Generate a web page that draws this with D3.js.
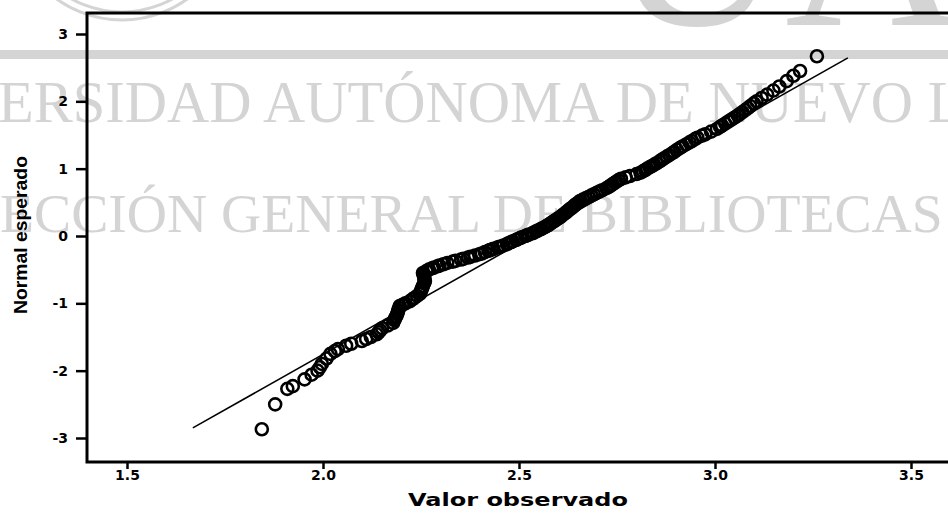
<!DOCTYPE html>
<html>
<head>
<meta charset="utf-8">
<script src="https://cdn.jsdelivr.net/npm/d3@7"></script>
<style>
body { margin: 0; background: #fff; }
</style>
</head>
<body>
<script>
let observado = [
    1.844, 1.878, 1.909, 1.923, 1.953, 1.971, 1.986, 1.992, 1.997, 2.009,
    2.019, 2.030, 2.038, 2.059, 2.072, 2.099, 2.110, 2.122, 2.137, 2.142,
    2.146, 2.151, 2.165, 2.179, 2.182, 2.184, 2.187, 2.189, 2.191, 2.192,
    2.194, 2.196, 2.203, 2.210, 2.221, 2.228, 2.233, 2.240, 2.247, 2.249,
    2.251, 2.253, 2.255, 2.258, 2.260, 2.259, 2.258, 2.257, 2.255, 2.264,
    2.270, 2.278, 2.283, 2.292, 2.297, 2.307, 2.317, 2.331, 2.338, 2.352,
    2.358, 2.370, 2.376, 2.388, 2.399, 2.405, 2.413, 2.422, 2.426, 2.431,
    2.435, 2.445, 2.450, 2.460, 2.469, 2.473, 2.480, 2.484, 2.492, 2.496,
    2.503, 2.507, 2.516, 2.520, 2.525, 2.534, 2.538, 2.544, 2.548, 2.555,
    2.558, 2.565, 2.571, 2.574, 2.579, 2.584, 2.589, 2.592, 2.597, 2.602,
    2.605, 2.609, 2.613, 2.618, 2.622, 2.626, 2.630, 2.635, 2.639, 2.643,
    2.647, 2.652, 2.656, 2.663, 2.670, 2.677, 2.684, 2.691, 2.698, 2.705,
    2.712, 2.723, 2.729, 2.734, 2.739, 2.744, 2.749, 2.754, 2.760, 2.772,
    2.783, 2.800, 2.810, 2.816, 2.822, 2.827, 2.833, 2.839, 2.845, 2.851,
    2.859, 2.864, 2.869, 2.877, 2.883, 2.891, 2.896, 2.903, 2.911, 2.917,
    2.926, 2.935, 2.941, 2.949, 2.955, 2.967, 2.975, 2.990, 3.005, 3.013,
    3.018, 3.026, 3.034, 3.042, 3.050, 3.058, 3.063, 3.070, 3.077, 3.084,
    3.090, 3.099, 3.106, 3.119, 3.133, 3.149, 3.164, 3.183, 3.200, 3.217,
    3.260
];
let esperado = [
    -2.87, -2.50, -2.27, -2.23, -2.13, -2.06, -2.00, -1.95, -1.90, -1.82,
    -1.75, -1.71, -1.68, -1.63, -1.60, -1.56, -1.53, -1.50, -1.46, -1.43,
    -1.40, -1.37, -1.33, -1.29, -1.25, -1.22, -1.19, -1.16, -1.13, -1.10,
    -1.07, -1.04, -1.02, -1.00, -0.97, -0.94, -0.92, -0.89, -0.86, -0.83,
    -0.80, -0.77, -0.74, -0.70, -0.67, -0.64, -0.61, -0.58, -0.55, -0.52,
    -0.50, -0.48, -0.47, -0.45, -0.44, -0.42, -0.40, -0.38, -0.37, -0.35,
    -0.34, -0.32, -0.31, -0.29, -0.27, -0.26, -0.24, -0.22, -0.21, -0.20,
    -0.19, -0.17, -0.16, -0.14, -0.12, -0.11, -0.09, -0.08, -0.06, -0.05,
    -0.03, -0.02, 0.00, 0.01, 0.02, 0.04, 0.05, 0.07, 0.08, 0.10,
    0.11, 0.13, 0.15, 0.16, 0.18, 0.20, 0.22, 0.23, 0.25, 0.27,
    0.28, 0.30, 0.32, 0.34, 0.36, 0.38, 0.40, 0.42, 0.44, 0.46,
    0.48, 0.50, 0.52, 0.54, 0.56, 0.58, 0.60, 0.62, 0.64, 0.66,
    0.68, 0.71, 0.73, 0.75, 0.77, 0.79, 0.81, 0.83, 0.85, 0.87,
    0.89, 0.92, 0.94, 0.96, 0.98, 1.00, 1.02, 1.04, 1.06, 1.08,
    1.11, 1.13, 1.15, 1.18, 1.20, 1.23, 1.25, 1.28, 1.31, 1.33,
    1.36, 1.39, 1.41, 1.44, 1.46, 1.49, 1.51, 1.55, 1.59, 1.62,
    1.64, 1.67, 1.70, 1.73, 1.76, 1.79, 1.81, 1.84, 1.87, 1.90,
    1.93, 1.97, 2.00, 2.05, 2.10, 2.16, 2.22, 2.30, 2.38, 2.45,
    2.67
];

// recta de referencia (extremos)
let rectaX = [1.668, 3.339];
let rectaY = [-2.85, 2.645];

let xTicks = [1.5, 2.0, 2.5, 3.0, 3.5];
let yTicks = [-3, -2, -1, 0, 1, 2, 3];

let w = 948;
let h = 517;
let margenIzq = 87, margenSup = 13, margenInf = 462;

let svg = d3.select("body")
    .append("svg")
    .attr("width", w)
    .attr("height", h);

// marca de agua del escaneo
let gris = "#d4d4d4";
let wm = svg.append("g");

wm.append("rect")
    .attr("x", 0).attr("y", 50)
    .attr("width", w).attr("height", 9)
    .attr("fill", gris);

[104, 112].forEach(function (r) {
    wm.append("circle")
        .attr("cx", 122).attr("cy", -92)
        .attr("r", r)
        .attr("fill", "none")
        .attr("stroke", gris)
        .attr("stroke-width", 3);
});

function lineaMarca(texto, nPrefijo, nVisible, x0, ancho, base) {
    let t = wm.append("text")
        .attr("font-family", "Liberation Serif, serif")
        .attr("font-size", 100)
        .attr("fill", gris)
        .text(texto);
    let node = t.node();
    let fs = 100 * ancho / node.getSubStringLength(nPrefijo, nVisible);
    t.attr("font-size", fs);
    let pre = node.getSubStringLength(0, nPrefijo);
    t.attr("x", x0 - pre).attr("y", base);
}

lineaMarca("UNIVERSIDAD AUTÓNOMA DE NUEVO LEÓN", 4, 26, -2, 930, 122);
lineaMarca("DIRECCIÓN GENERAL DE BIBLIOTECAS", 3, 28, 0, 912, 232);

wm.append("text")
    .attr("x", 608).attr("y", 25)
    .attr("font-family", "Liberation Serif, serif")
    .attr("font-size", 245)
    .attr("fill", gris)
    .text("UANL");

// escalas
let x = d3.scaleLinear().domain([1.5, 3.5]).range([127, 911]);
let y = d3.scaleLinear().domain([-3, 3]).range([438, 34]);

// marco
svg.append("path")
    .attr("d", "M" + w + "," + margenSup + "H" + margenIzq + "V" + margenInf + "H" + w)
    .attr("fill", "none")
    .attr("stroke", "black")
    .attr("stroke-width", 3);

// ejes
let ejeX = svg.append("g")
    .attr("transform", "translate(0," + margenInf + ")")
    .call(d3.axisBottom(x).tickValues(xTicks).tickFormat(d3.format(".1f"))
        .tickSize(7).tickSizeOuter(0).tickPadding(1));

let ejeY = svg.append("g")
    .attr("transform", "translate(" + margenIzq + ",0)")
    .call(d3.axisLeft(y).tickValues(yTicks).tickFormat(function (d) { return String(d); })
        .tickSize(11).tickSizeOuter(0).tickPadding(8));

[ejeX, ejeY].forEach(function (g) {
    g.attr("font-size", 14).attr("font-family", "DejaVu Sans, sans-serif");
    g.select(".domain").remove();
    g.selectAll(".tick line").attr("stroke", "black").attr("stroke-width", 2.5);
    g.selectAll(".tick text")
        .attr("fill", "black")
        .attr("font-weight", "bold");
});

// recta normal
svg.append("line")
    .attr("x1", x(rectaX[0])).attr("y1", y(rectaY[0]))
    .attr("x2", x(rectaX[1])).attr("y2", y(rectaY[1]))
    .attr("stroke", "black")
    .attr("stroke-width", 1.6);

// puntos
svg.append("g")
    .selectAll("circle")
    .data(observado)
    .enter()
    .append("circle")
    .attr("cx", function (d) { return x(d); })
    .attr("cy", function (d, i) { return y(esperado[i]); })
    .attr("r", 6)
    .attr("fill", "none")
    .attr("stroke", "black")
    .attr("stroke-width", 2.6);

// titulos de los ejes
svg.append("text")
    .attr("x", 518)
    .attr("y", 506)
    .attr("text-anchor", "middle")
    .attr("font-family", "DejaVu Sans, sans-serif")
    .attr("font-weight", "bold")
    .attr("font-size", 17)
    .attr("textLength", 220)
    .attr("lengthAdjust", "spacingAndGlyphs")
    .text("Valor observado");

svg.append("text")
    .attr("transform", "translate(27,235) rotate(-90)")
    .attr("text-anchor", "middle")
    .attr("font-family", "Liberation Sans Narrow, Liberation Sans, sans-serif")
    .attr("font-weight", "bold")
    .attr("font-size", 18)
    .attr("textLength", 158)
    .attr("lengthAdjust", "spacingAndGlyphs")
    .text("Normal esperado");
</script>
</body>
</html>
